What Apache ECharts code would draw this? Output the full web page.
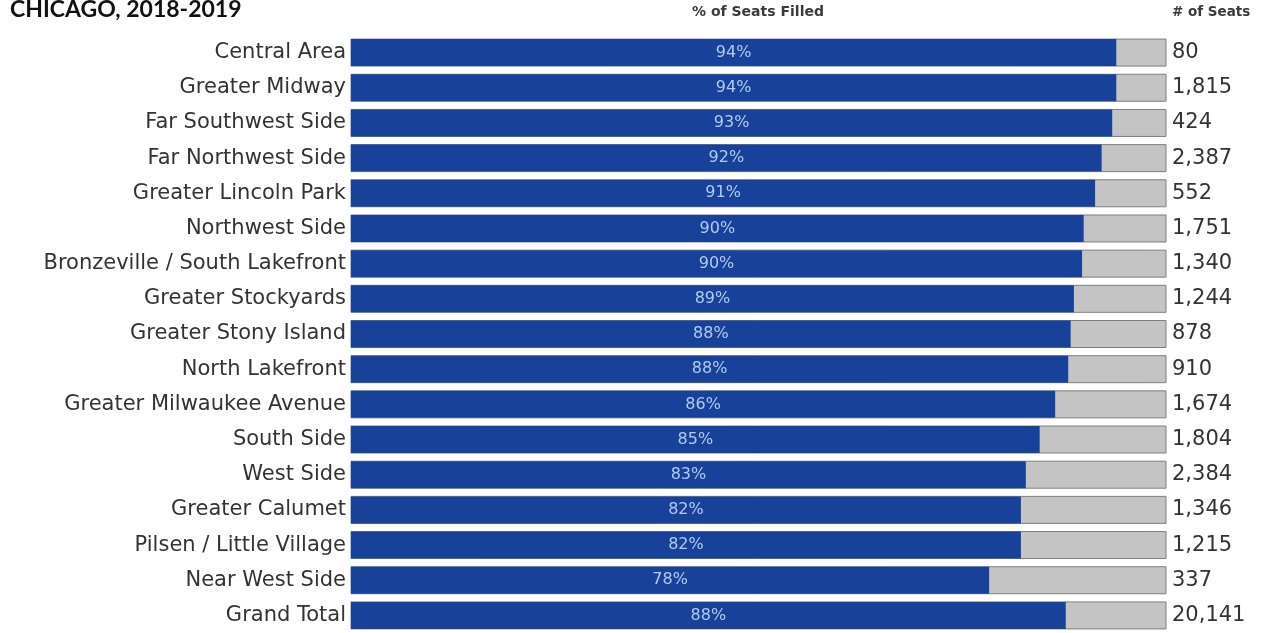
<!DOCTYPE html>
<html>
<head>
<meta charset="utf-8">
<script src="https://cdn.jsdelivr.net/npm/echarts@6/dist/echarts.min.js"></script>
<style>
html,body{margin:0;padding:0;background:#fff;}
#chart{width:1264px;height:633px;}
</style>
</head>
<body>
<div id="chart"></div>
<script>
const categories = [
  "Central Area", "Greater Midway", "Far Southwest Side", "Far Northwest Side",
  "Greater Lincoln Park", "Northwest Side", "Bronzeville / South Lakefront",
  "Greater Stockyards", "Greater Stony Island", "North Lakefront",
  "Greater Milwaukee Avenue", "South Side", "West Side", "Greater Calumet",
  "Pilsen / Little Village", "Near West Side", "Grand Total"
];
const pctFilled = [93.9, 93.9, 93.4, 92.1, 91.3, 89.9, 89.7, 88.7, 88.3, 88.0, 86.4, 84.5, 82.8, 82.2, 82.2, 78.3, 87.7];
const pctLabels = ["94%", "94%", "93%", "92%", "91%", "90%", "90%", "89%", "88%", "88%", "86%", "85%", "83%", "82%", "82%", "78%", "88%"];
const seats = [80, 1815, 424, 2387, 552, 1751, 1340, 1244, 878, 910, 1674, 1804, 2384, 1346, 1215, 337, 20141];

const chart = echarts.init(document.getElementById('chart'));
const fmt = n => n.toLocaleString('en-US');

chart.setOption({
  animation: false,
  backgroundColor: '#ffffff',
  title: [
    { text: 'CHICAGO, 2018-2019', left: 10, top: -2, padding: 0,
      textStyle: { fontFamily: 'Lato', fontWeight: 'bold', fontSize: 23, color: '#111' } },
    { text: '% of Seats Filled', left: 758, top: 5, padding: 0, textAlign: 'center',
      textStyle: { fontFamily: 'DejaVu Sans', fontWeight: 'bold', fontSize: 14, color: '#3a3a3a' } },
    { text: '# of Seats', left: 1172, top: 5, padding: 0,
      textStyle: { fontFamily: 'DejaVu Sans', fontWeight: 'bold', fontSize: 13.5, color: '#3a3a3a' } }
  ],
  grid: { left: 351, right: 98, top: 35, bottom: 0 },
  xAxis: { type: 'value', min: 0, max: 100, show: false },
  yAxis: [
    { type: 'category', inverse: true, data: categories,
      axisLine: { show: false }, axisTick: { show: false }, splitLine: { show: false },
      axisLabel: { fontFamily: 'DejaVu Sans', fontSize: 21, color: '#333', margin: 5 } },
    { type: 'category', inverse: true, position: 'right', data: seats.map(fmt),
      axisLine: { show: false }, axisTick: { show: false }, splitLine: { show: false },
      axisLabel: { fontFamily: 'DejaVu Sans', fontSize: 21, color: '#333', margin: 6, align: 'left' } }
  ],
  series: [{
    type: 'bar',
    data: pctFilled,
    barWidth: 27,
    itemStyle: { color: '#18429a' },
    showBackground: true,
    backgroundStyle: { color: '#c4c4c4', borderColor: '#7f7f7f', borderWidth: 1 },
    label: {
      show: true, position: 'inside',
      formatter: p => pctLabels[p.dataIndex],
      fontFamily: 'DejaVu Sans', fontSize: 16, color: '#b3c9ee'
    }
  }]
});
</script>
</body>
</html>
